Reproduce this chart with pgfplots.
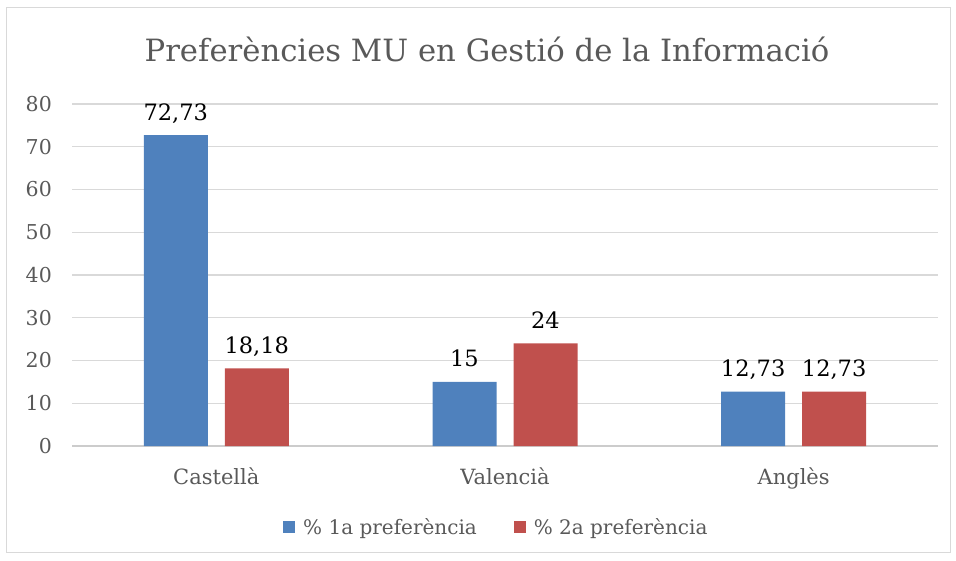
\documentclass[border=0pt]{standalone}
\usepackage{fontspec}
\setmainfont{DejaVu Serif}
\usepackage{pgfplots}
\pgfplotsset{compat=1.18}
\definecolor{blu}{HTML}{4F81BD}
\definecolor{rd}{HTML}{C0504D}
\definecolor{grd}{HTML}{D9D9D9}
\definecolor{grd0}{HTML}{CCCCCC}
\definecolor{txt}{HTML}{595959}
\begin{document}
\begin{tikzpicture}[x=1pt,y=1pt]
\path[use as bounding box] (0,0) rectangle (956,560);
\draw[grd, line width=1pt] (6.5,7.5) rectangle (950,552.5);
\node[txt, font=\fontsize{30.7}{36}\selectfont] at (487,511) {Preferències MU en Gestió de la Informació};
\begin{axis}[
  at={(72pt,114pt)}, anchor=south west,
  scale only axis, width=866pt, height=342pt,
  xmin=-0.5, xmax=2.5, ymin=0, ymax=80,
  ytick={10,20,...,80}, xtick={0,1,2},
  extra y ticks={0},
  extra y tick style={grid style={grd0, line width=1.6pt}},
  xticklabels={Castellà,Valencià,Anglès},
  axis line style={draw=none},
  major tick length=0pt,
  ymajorgrids, grid style={grd, line width=1.4pt},
  ybar=17pt, bar width=64pt,
  /pgf/number format/assume math mode=true,
  yticklabel style={font=\fontsize{20.5}{24}\selectfont, text=txt, anchor=east, inner sep=0pt, xshift=-20pt},
  xticklabel style={font=\fontsize{21}{25}\selectfont, text=txt, anchor=base, inner sep=0pt, yshift=-38pt},
  nodes near coords={\pgfmathprintnumber[use comma,fixed,precision=2,1000 sep={}]{\pgfplotspointmeta}},
  nodes near coords style={font=\fontsize{22.5}{26}\selectfont, text=black, anchor=base, inner sep=0pt, yshift=15pt, /pgf/number format/assume math mode=true},
  legend style={at={(0.49,-0.238)}, anchor=center, draw=none, fill=none, legend columns=2,
    font=\fontsize{20}{24}\selectfont, text=txt, inner sep=0pt,
    /tikz/every even column/.append style={column sep=35pt}},
  legend image code/.code={\fill[#1] (0pt,-6pt) rectangle (12pt,6pt); \path (18pt,0pt);},
]
\addplot[fill=blu, draw=none] coordinates {(0,72.73) (1,15) (2,12.73)};
\addlegendentry{\% 1a preferència}
\addplot[fill=rd, draw=none] coordinates {(0,18.18) (1,24) (2,12.73)};
\addlegendentry{\% 2a preferència}
\end{axis}
\end{tikzpicture}
\end{document}
